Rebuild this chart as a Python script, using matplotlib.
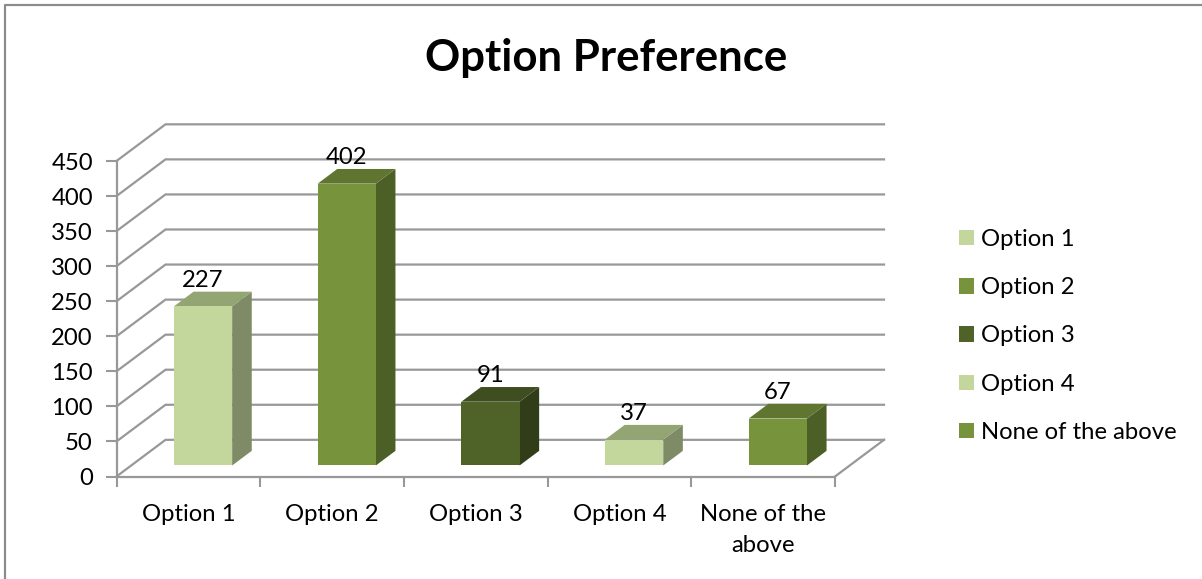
import matplotlib
matplotlib.use('Agg')
import matplotlib.pyplot as plt
from matplotlib.lines import Line2D
from matplotlib.patches import Patch, Polygon

plt.rcParams['font.family'] = ['Lato', 'DejaVu Sans']

categories = ['Option 1', 'Option 2', 'Option 3', 'Option 4', 'None of the\nabove']
legend_labels = ['Option 1', 'Option 2', 'Option 3', 'Option 4', 'None of the above']
values = [227, 402, 91, 37, 67]
y_ticks = [0, 50, 100, 150, 200, 250, 300, 350, 400, 450]

front_colors = ['#C3D69B', '#77933C', '#4F6228', '#C3D69B', '#77933C']
top_colors = ['#93A573', '#5F7530', '#3F4E20', '#93A573', '#5F7530']
side_colors = ['#7F8B66', '#4B5F27', '#313D18', '#7F8B66', '#4B5F27']
GRID = '#989898'

W, H = 1202, 579
# oblique offset of the back wall, in data units
DEPTH_X = 0.341
DEPTH_Y = 52.3
BAR_WIDTH = 0.405


def project(x, v, d):
    return x + d * DEPTH_X, v + d * DEPTH_Y


def draw_wall(ax):
    for v in y_ticks:
        x0, y0 = project(0, v, 0)
        x1, y1 = project(0, v, 1)
        x2, y2 = project(5, v, 1)
        ax.plot([x0, x1, x2], [y0, y1, y2], color=GRID, lw=1.6, clip_on=False, zorder=1,
                solid_joinstyle='miter')
    x1, y1 = project(5, 0, 1)
    ax.plot([5, x1], [0, y1], color=GRID, lw=1.6, clip_on=False, zorder=1)


def draw_bar(ax, i, v):
    left = i + 0.5 - BAR_WIDTH / 2
    right = left + BAR_WIDTH
    d0, d1 = 0.30, 0.70
    a = project(left, 0, d0)
    b = project(right, 0, d0)
    c = project(right, v, d0)
    e = project(left, v, d0)
    f = project(left, v, d1)
    g = project(right, v, d1)
    h = project(right, 0, d1)
    ax.add_patch(Polygon([b, h, g, c], fc=side_colors[i], ec='none', clip_on=False, zorder=3))
    ax.add_patch(Polygon([e, c, g, f], fc=top_colors[i], ec='none', clip_on=False, zorder=3))
    ax.add_patch(Polygon([a, b, c, e], fc=front_colors[i], ec='none', clip_on=False, zorder=3))
    tx, ty = project(i + 0.5, v, d0)
    ax.text(tx, ty + 37, str(v), ha='center', va='center', fontsize=17.2, color='black', zorder=5)


fig = plt.figure(figsize=(W / 100, H / 100), dpi=100)
# chart frame: only the top and left edges show in the source
fig.add_artist(Line2D([4.5 / W, 4.5 / W, 1], [0, 1 - 5 / H, 1 - 5 / H], color='#8C8C8C', lw=1.6))

ax = fig.add_axes([116.5 / W, 1 - 476.5 / H, 718.5 / W, 315.5 / H])
ax.set_xlim(0, 5)
ax.set_ylim(0, 450)
ax.patch.set_visible(False)
for side in ['top', 'right']:
    ax.spines[side].set_visible(False)
for side in ['left', 'bottom']:
    ax.spines[side].set_color(GRID)
    ax.spines[side].set_linewidth(1.6)

ax.set_yticks(y_ticks)
ax.set_xticks(range(6))
ax.set_xticklabels([])
ax.set_xticks([i + 0.5 for i in range(5)], categories, minor=True, linespacing=1.55)
ax.tick_params(axis='x', which='major', length=7, width=1.5, color=GRID)
ax.tick_params(axis='x', which='minor', length=0, pad=20, labelsize=17.2)
ax.tick_params(axis='y', length=8, width=1.5, color=GRID, pad=9, labelsize=17.2)

draw_wall(ax)
for i, v in enumerate(values):
    draw_bar(ax, i, v)

fig.text(606 / W, 1 - 58 / H, 'Option Preference', ha='center', va='center', fontsize=31.5, fontweight='bold')

handles = [Patch(fc=c, ec='none') for c in front_colors]
fig.legend(handles, legend_labels, loc='center left', bbox_to_anchor=(959 / W, 1 - 336 / H), frameon=False,
           fontsize=17.2, handlelength=0.63, handleheight=0.63, handletextpad=0.3, labelspacing=1.14,
           borderpad=0, borderaxespad=0)

fig.savefig('out.png', dpi=100)
